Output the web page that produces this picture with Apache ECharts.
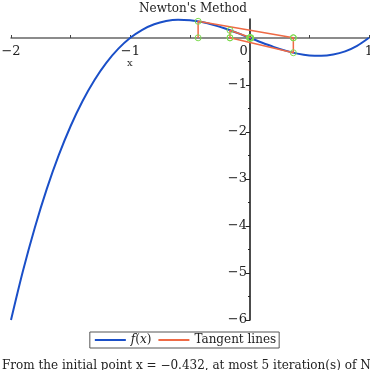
<!DOCTYPE html>
<html>
<head>
<meta charset="utf-8">
<script src="https://cdn.jsdelivr.net/npm/echarts@6/dist/echarts.min.js"></script>
<style>html,body{margin:0;padding:0;background:#fff;}#c{width:370px;height:370px;}</style>
</head>
<body>
<div id="c"></div>
<script>
// f(x) samples
const curveX = [-2.0,-1.9,-1.8,-1.7,-1.6,-1.5,-1.4,-1.3,-1.2,-1.1,-1.0,-0.9,-0.8,-0.7,-0.6,-0.5,-0.4,-0.3,-0.2,-0.1,0.0,0.1,0.2,0.3,0.4,0.5,0.6,0.7,0.8,0.9,1.0];
const curveY = [-6.0,-4.959,-4.032,-3.213,-2.496,-1.875,-1.344,-0.897,-0.528,-0.231,0.0,0.171,0.288,0.357,0.384,0.375,0.336,0.273,0.192,0.099,0.0,-0.099,-0.192,-0.273,-0.336,-0.375,-0.384,-0.357,-0.288,-0.171,0.0];
// Newton iterates and f at each iterate
const iterX = [-0.432, 0.366, -0.165, 0.0097, 0.0];
const iterF = [0.351, -0.317, 0.160, -0.0097, 0.0];
const xTicks = [-2, -1, 0, 1];
const yTickLabels = [-6, -5, -4, -3, -2, -1];
const titleText = "Newton's Method";
const captionText = "From the initial point x = \u22120.432, at most 5 iteration(s) of Newton's method give the approximation shown above.";

const FONT = "'DejaVu Serif', serif";
const curve = curveX.map((x, i) => [x, curveY[i]]);
const tangent = [];
iterX.forEach((x, i) => {
  tangent.push([x, 0]);
  tangent.push([x, iterF[i]]);
  if (i + 1 < iterX.length) tangent.push([iterX[i + 1], 0]);
});
const minus = v => String(v).replace('-', '\u2212');

const chart = echarts.init(document.getElementById('c'), null, {renderer: 'canvas'});
chart.setOption({
  animation: false,
  backgroundColor: '#fff',
  title: {
    text: titleText, left: 188, textAlign: 'center', top: -2,
    textStyle: {fontFamily: FONT, fontSize: 12, fontWeight: 'normal', color: '#222'}
  },
  grid: {left: 11, right: 1, top: 19, bottom: 50, containLabel: false, outerBoundsMode: 'none'},
  xAxis: {
    type: 'value', min: -2, max: 1, interval: 1,
    position: 'bottom', offset: -282,
    axisLine: {onZero: false, lineStyle: {color: '#666', width: 1.5}},
    axisTick: {show: true, inside: true, length: 3, lineStyle: {color: '#444'}},
    minorTick: {show: true, splitNumber: 2, length: 3, lineStyle: {color: '#444'}},
    splitLine: {show: false},
    axisLabel: {
      fontFamily: FONT, fontSize: 13, color: '#222', margin: 7, showMaxLabel: true, showMinLabel: true,
      hideOverlap: false,
      formatter: v => xTicks.includes(v) ? (v === 0 ? '{z|0}' : minus(v)) : '',
      rich: {z: {fontFamily: FONT, fontSize: 13, color: '#222', padding: [0, 12, 0, 0]}}
    }
  },
  yAxis: {
    type: 'value', min: -6, max: 0.4,
    position: 'left', offset: -239,
    axisLine: {onZero: false, lineStyle: {color: '#111', width: 1.5}},
    axisTick: {show: true, length: 4, customValues: [-6, -5, -4, -3, -2, -1, 0], lineStyle: {color: '#222'}},
    minorTick: {show: true, splitNumber: 2, length: 2, lineStyle: {color: '#222'}},
    splitLine: {show: false},
    axisLabel: {
      fontFamily: FONT, fontSize: 13, color: '#222', margin: 3,
      customValues: yTickLabels,
      formatter: v => minus(v)
    }
  },
  legend: {
    left: 'center', top: 332,
    padding: [2, 3, 2, 4],
    borderColor: '#555', borderWidth: 1, borderRadius: 0,
    itemWidth: 31, itemHeight: 12, itemGap: 6,
    itemStyle: {opacity: 0},
    textStyle: {fontFamily: FONT, fontSize: 12, color: '#222',
      rich: {i: {fontFamily: FONT, fontStyle: 'italic', fontSize: 12, color: '#222'}}},
    formatter: n => n === 'f(x)' ? '{i|f}({i|x})' : n,
    data: ['f(x)', 'Tangent lines']
  },
  series: [
    {
      name: 'f(x)', type: 'line', data: curve, smooth: 0.3, showSymbol: false, symbol: 'none',
      lineStyle: {color: '#1a4fc8', width: 2}, itemStyle: {color: '#1a4fc8'}, z: 2
    },
    {
      name: 'Tangent lines', type: 'line', data: tangent, smooth: false,
      symbol: 'circle', symbolSize: 6, showSymbol: true,
      lineStyle: {color: '#ef6a45', width: 1.5},
      itemStyle: {color: 'rgba(0,0,0,0)', borderColor: '#7ddc50', borderWidth: 1},
      z: 3
    }
  ],
  graphic: [
    {type: 'text', left: 127, top: 58, style: {text: 'x', font: "10px 'DejaVu Serif'", fill: '#333'}},
    {type: 'text', left: 2, top: 360, style: {text: captionText, font: "12px 'DejaVu Serif'", fill: '#222'}}
  ]
});
</script>
</body>
</html>
